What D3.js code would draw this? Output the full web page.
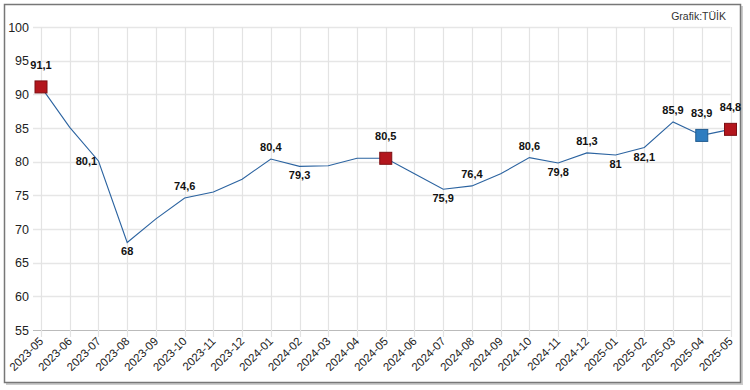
<!DOCTYPE html>
<html><head><meta charset="utf-8">
<script src="https://cdn.jsdelivr.net/npm/d3@7"></script>
<style>body{margin:0;background:#fff;}svg{display:block;font-family:"Liberation Sans",Arial,sans-serif;}</style>
</head><body><svg id="c" width="750" height="390"></svg>
<script>
const categories = ["2023-05","2023-06","2023-07","2023-08","2023-09","2023-10","2023-11","2023-12","2024-01","2024-02","2024-03","2024-04","2024-05","2024-06","2024-07","2024-08","2024-09","2024-10","2024-11","2024-12","2025-01","2025-02","2025-03","2025-04","2025-05"];
const values = [91.1,85.1,80.1,68,71.5,74.6,75.5,77.4,80.4,79.3,79.4,80.5,80.5,78.2,75.9,76.4,78.2,80.6,79.8,81.3,81,82.1,85.9,83.9,84.8];
// label placement: "a" above, "b" below, "l" left, null none
const labelPos = ["a",null,"l","b",null,"a",null,null,"a","b",null,null,"a",null,"b","a",null,"a","b","a","b","b","a","a","a"];
const markers = {0:"red",12:"red",23:"blue",24:"red"};
const yTicks = [55,60,65,70,75,80,85,90,95,100];
const source = "Grafik:TÜİK";

const svg = d3.select("#c");
// frame with shadow
svg.append("rect").attr("x",6).attr("y",6).attr("width",737).attr("height",379).attr("fill","#ccc");
svg.append("rect").attr("x",4.5).attr("y",4.5).attr("width",736).attr("height",378).attr("fill","#fff").attr("stroke","#777").attr("stroke-width",1.5);

const x = d3.scalePoint().domain(categories).range([41,730.5]);
const y = d3.scaleLinear().domain([55,100]).range([330,27]);

// horizontal grid
svg.append("g").selectAll("line").data(yTicks).join("line")
  .attr("x1",33).attr("x2",730.5).attr("y1",d=>Math.round(y(d))+0.5).attr("y2",d=>Math.round(y(d))+0.5)
  .attr("stroke",d=>d===55?"#bbb":"#e6e6e6").attr("stroke-width",d=>d===55?1:1.5);
// vertical grid
svg.append("g").selectAll("line").data(categories).join("line")
  .attr("x1",d=>Math.round(x(d))+0.5).attr("x2",d=>Math.round(x(d))+0.5).attr("y1",27).attr("y2",337)
  .attr("stroke","#e3e3e3").attr("stroke-width",1.2);

// y labels
svg.append("g").selectAll("text").data(yTicks).join("text")
  .attr("x",29).attr("y",d=>y(d)+4.5).attr("text-anchor","end").attr("font-size",12.5).attr("fill","#222").text(d=>d);
// x labels
svg.append("g").selectAll("text").data(categories).join("text")
  .attr("transform",d=>`translate(${x(d)+3},${342}) rotate(-45)`).attr("text-anchor","end")
  .attr("font-size",11.5).attr("fill","#222").text(d=>d);

// line
svg.append("path").datum(values).attr("fill","none").attr("stroke","#2b63a0").attr("stroke-width",1.1)
  .attr("d",d3.line().x((d,i)=>x(categories[i])).y(d=>y(d)));

// markers
Object.entries(markers).forEach(([i,c])=>{
  const cx=x(categories[+i]), cy=y(values[+i]);
  svg.append("rect").attr("x",cx-6).attr("y",cy-6).attr("width",12).attr("height",12)
    .attr("fill",c==="red"?"#b3161d":"#2f7dc0").attr("stroke",c==="red"?"#7d0f13":"#215c8f").attr("stroke-width",1);
});

// labels
const fmt = v => String(v).replace(".",",");
svg.append("g").selectAll("text").data(values.map((v,i)=>({v,i})).filter(d=>labelPos[d.i])).join("text")
  .attr("x",d=>{const px=x(categories[d.i]); return labelPos[d.i]==="l"?px-12:px;})
  .attr("y",d=>{const py=y(d.v); const p=labelPos[d.i]; const m=markers[d.i]?1:0;
     if(p==="a") return py-(m?18:8); if(p==="b") return py+13; return py+4;})
  .attr("text-anchor","middle").attr("font-size",11).attr("font-weight","bold").attr("fill","#111")
  .text(d=>fmt(d.v));

svg.append("text").attr("x",726).attr("y",20).attr("text-anchor","end").attr("font-size",10.5).attr("fill","#333").text(source);
</script></body></html>
